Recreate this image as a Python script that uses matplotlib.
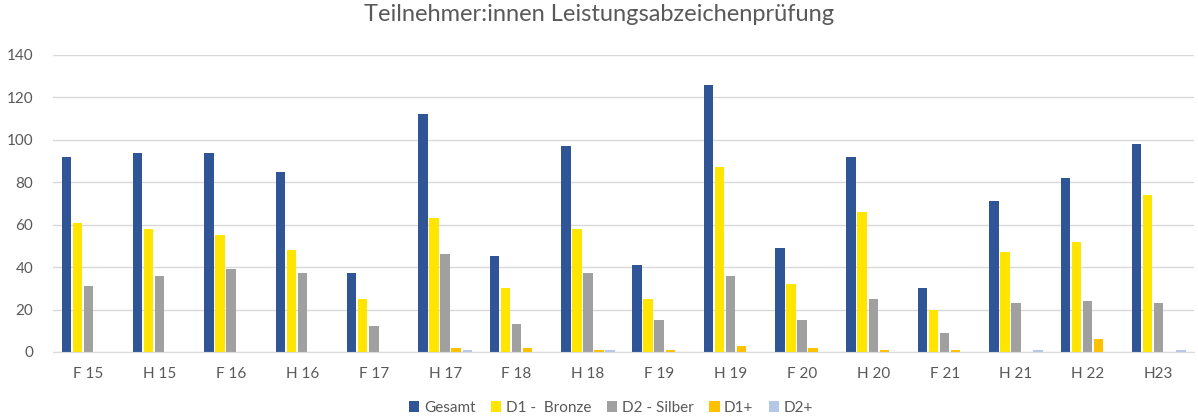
from matplotlib import pyplot as plt
import numpy as np

plt.rcParams['font.family'] = ['Lato', 'DejaVu Sans']

categories = ["F 15", "H 15", "F 16", "H 16", "F 17", "H 17", "F 18", "H 18",
              "F 19", "H 19", "F 20", "H 20", "F 21", "H 21", "H 22", "H23"]
gesamt = [92, 94, 94, 85, 37, 112, 45, 97, 41, 126, 49, 92, 30, 71, 82, 98]
d1_bronze = [61, 58, 55, 48, 25, 63, 30, 58, 25, 87, 32, 66, 20, 47, 52, 74]
d2_silber = [31, 36, 39, 37, 12, 46, 13, 37, 15, 36, 15, 25, 9, 23, 24, 23]
d1_plus = [0, 0, 0, 0, 0, 2, 2, 1, 1, 3, 2, 1, 1, 0, 6, 0]
d2_plus = [0, 0, 0, 0, 0, 1, 0, 1, 0, 0, 0, 0, 0, 1, 0, 1]

series = [
    ("Gesamt", gesamt, "#2F5597"),
    ("D1 -  Bronze", d1_bronze, "#FFE500"),
    ("D2 - Silber", d2_silber, "#A0A0A0"),
    ("D1+", d1_plus, "#FFC000"),
    ("D2+", d2_plus, "#B4C7E7"),
]

fig = plt.figure(figsize=(11.98, 4.16), dpi=100)
ax = fig.add_axes([0.044, 0.154, 0.953, 0.714])

xs = np.arange(len(categories))
step = 0.155
width = 0.133
for i, (name, vals, color) in enumerate(series):
    ax.bar(xs + (i - 2) * step, vals, width, color=color, label=name)

ax.set_xlim(-0.5, len(categories) - 0.5)
ax.set_ylim(0, 140)
ax.set_yticks(range(0, 141, 20))
ax.set_xticks(xs)
ax.set_xticklabels(categories)
ax.tick_params(length=0, labelsize=11, colors="#595959")
ax.tick_params(axis="x", pad=11)
ax.tick_params(axis="y", pad=14)
ax.yaxis.grid(True, color="#D9D9D9", linewidth=1)
ax.set_axisbelow(True)
for s in ["top", "right", "left"]:
    ax.spines[s].set_visible(False)
ax.spines["bottom"].set_color("#D9D9D9")

fig.suptitle("Teilnehmer:innen Leistungsabzeichenprüfung", y=0.99,
             fontsize=17, color="#595959")
fig.legend(loc="lower center", bbox_to_anchor=(0.51, -0.03), ncol=5, frameon=False,
           fontsize=11, handlelength=0.7, handleheight=0.7, columnspacing=1.0,
           handletextpad=0.3, labelcolor="#595959")

plt.savefig("out.png")
